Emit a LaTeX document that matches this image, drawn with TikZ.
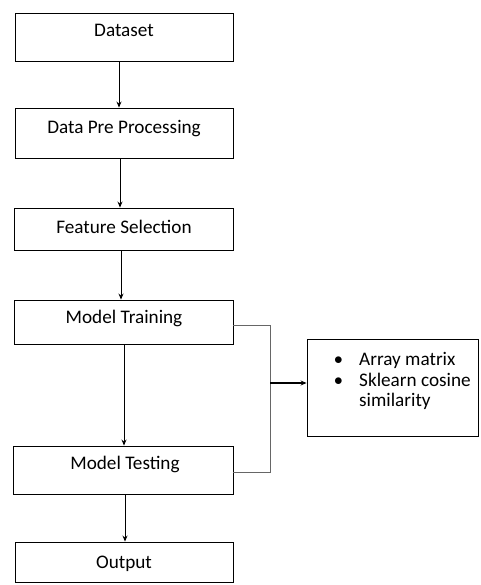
\documentclass[tikz,border=0pt]{standalone}
\usepackage{fontspec}
\setmainfont{Carlito}
\usetikzlibrary{arrows.meta}
\begin{document}
\begin{tikzpicture}[x=1pt,y=-1pt,
  box/.style={draw=black, line width=0.9pt, rectangle, inner sep=0pt},
  lbl/.style={inner sep=0pt, font=\fontsize{19.2}{23}\selectfont, anchor=base},
  arr/.style={draw=black, line width=0.8pt, -{Stealth[length=6pt,width=5pt]}},
  link/.style={draw=black!60, line width=0.9pt}]
\useasboundingbox (0,0) rectangle (480,585);
% boxes
\node[box, minimum width=218pt, minimum height=48pt] (ds) at (124,37) {};
\node[box, minimum width=218pt, minimum height=50pt] (dpp) at (124,133) {};
\node[box, minimum width=219pt, minimum height=42pt] (fs) at (123.5,229) {};
\node[box, minimum width=219pt, minimum height=44pt] (mtr) at (123.5,322) {};
\node[box, minimum width=220pt, minimum height=48pt] (mte) at (123,470) {};
\node[box, minimum width=218pt, minimum height=40pt] (out) at (124,562) {};
\node[box, minimum width=171pt, minimum height=97pt] (rb) at (392.5,387.5) {};
% labels
\node[lbl] (t1) at (124,37) {Dataset};
\node[lbl] (t2) at (124,134) {Data Pre Processing};
\node[lbl] (t3) at (124,233) {Feature Selection};
\node[lbl] (t4) at (124,323) {Model Training};
\node[lbl] (t5) at (125,469) {Model Testing};
\node[lbl] (t6) at (124,568) {Output};
\node[lbl, anchor=base west, font=\fontsize{16}{20}\selectfont] (b1) at (334,364) {$\bullet$};
\node[lbl, anchor=base west] (r1) at (359,365) {Array matrix};
\node[lbl, anchor=base west, font=\fontsize{16}{20}\selectfont] (b2) at (334,385) {$\bullet$};
\node[lbl, anchor=base west] (r2) at (359,386) {Sklearn cosine};
\node[lbl, anchor=base west] (r3) at (359,406) {similarity};
% vertical arrows
\coordinate (a1) at ([xshift=-5pt]ds.south);
\coordinate (a2) at ([xshift=-4pt]dpp.south);
\coordinate (a3) at ([xshift=-2.5pt]fs.south);
\coordinate (a4) at ([xshift=0.5pt]mtr.south);
\coordinate (a5) at ([xshift=2pt]mte.south);
\draw[arr] (a1) -- (a1 |- dpp.north);
\draw[arr] (a2) -- (a2 |- fs.north);
\draw[arr] (a3) -- (a3 |- mtr.north);
\draw[arr] (a4) -- (a4 |- mte.north);
\draw[arr] (a5) -- (a5 |- out.north);
% bracket to right box
\coordinate (jt) at (270,325);
\coordinate (jb) at (270,472);
\coordinate (jm) at (270,383);
\draw[link] (mtr.east |- jt) -- (jt) -- (jb) -- (mte.east |- jb);
\draw[arr, line width=1.2pt] (jm) -- (rb.west |- jm);
\end{tikzpicture}
\end{document}
